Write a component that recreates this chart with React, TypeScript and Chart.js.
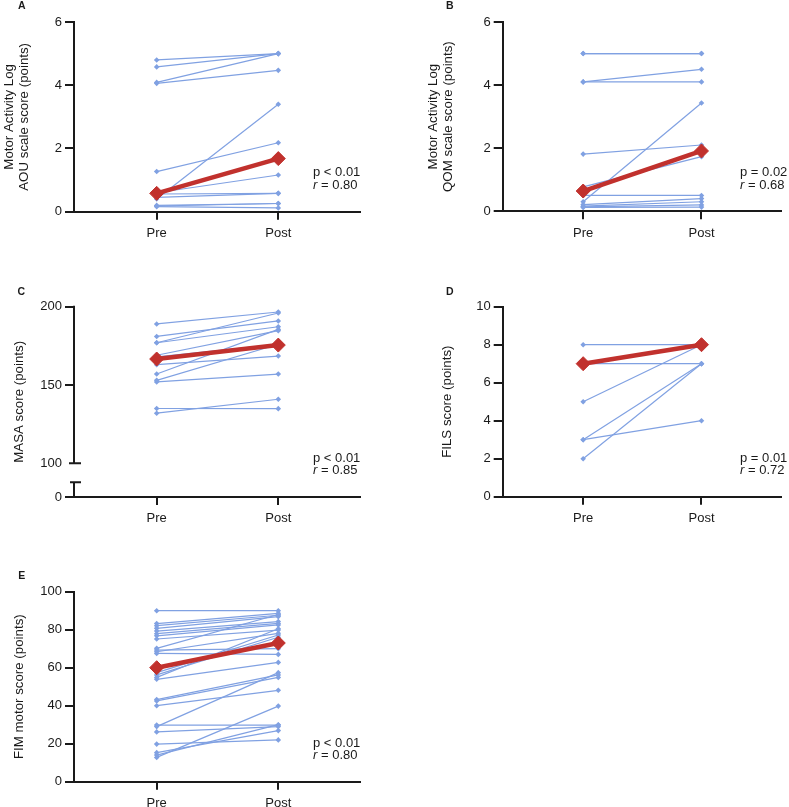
import React, { useEffect, useRef } from 'react';
import { Chart, registerables } from 'chart.js';
Chart.register(...registerables);

const FONT = '"Liberation Sans", Arial, Helvetica, sans-serif';
const INK = '#1a1a1a';
const BLUE = 'rgb(128,161,226)';
const RED = '#c1312d';

// ---- data ----
const xLabels = ['Pre', 'Post'];
const xPositions = [1, 2];

const preA = [4.8, 4.58, 4.09, 4.06, 1.27, 0.6, 0.56, 0.4, 0.45, 0.2, 0.18, 0.16];
const postA = [5.0, 5.0, 5.0, 4.47, 2.18, 1.16, 0.58, 3.4, 0.58, 0.26, 0.26, 0.12];
const medianA = [0.58, 1.68];
const ticksA = [0, 2, 4, 6];

const preB = [5.0, 5.0, 4.1, 4.1, 1.81, 0.77, 0.3, 0.5, 0.21, 0.16, 0.14, 0.12];
const postB = [5.0, 5.0, 4.5, 4.1, 2.1, 1.73, 3.43, 0.5, 0.4, 0.3, 0.2, 0.13];
const medianB = [0.64, 1.91];
const ticksB = [0, 2, 4, 6];

const preC = [189, 181, 177, 177, 169, 168, 163, 157, 153, 152, 135, 132];
const postC = [196.6, 190.9, 196, 187.2, 184.7, 176, 168.5, 185.5, 176, 157, 134.9, 140.9];
const medianC = [166.6, 175.5];
const ticksC = [78.5, 100, 150, 200]; // 78.5 is where the broken axis shows "0"
const tickLabelsC = ['0', '100', '150', '200'];

const preD = [8, 7, 5, 3, 3, 2];
const postD = [8, 7, 8, 7, 4, 7];
const medianD = [7, 8];
const ticksD = [0, 2, 4, 6, 8, 10];

const preE = [90, 83.2, 82.1, 80.7, 79.3, 77.9, 76.8, 75.1, 70.2, 69.3, 68.4, 67.5, 57.4, 56.2, 54.9, 53.9, 43.2, 42.5, 40.0, 29.8, 29.0, 26.2, 19.8, 15.3, 14.0, 12.8];
const postE = [90, 88.6, 87.6, 86.9, 84.3, 83.3, 82.5, 79.8, 88.0, 70.0, 78.1, 67.0, 77.2, 76.0, 80.5, 62.8, 56.2, 54.9, 48.1, 29.8, 57.4, 29.0, 22.0, 26.9, 30.0, 39.8];
const medianE = [60, 73];
const ticksE = [0, 20, 40, 60, 80, 100];

const titles = {
  A: ['Motor Activity Log', 'AOU scale score (points)'],
  B: ['Motor Activity Log', 'QOM scale score (points)'],
  C: 'MASA score (points)',
  D: 'FILS score (points)',
  E: 'FIM motor score (points)',
};
const pTexts = ['p < 0.01', 'p = 0.02', 'p < 0.01', 'p = 0.01', 'p < 0.01'];
const rTexts = ['0.80', '0.68', '0.85', '0.72', '0.80'];
const letters = ['A', 'B', 'C', 'D', 'E'];

type Area = { left: number; top: number; right: number; bottom: number };
type Cfg = {
  pre: number[]; post: number[]; median: number[];
  yMin: number; yMax: number; yTicks: number[]; tickLabels?: string[];
  title: string | string[]; titlePad: number;
  box: { left: number; top: number; w: number; h: number };
  area: Area;
  broken?: { upper: number; lower: number };
};

const panels: Cfg[] = [
  { pre: preA, post: postA, median: medianA, yMin: 0, yMax: 6, yTicks: ticksA, title: titles.A, titlePad: 1.5,
    box: { left: 0, top: 0, w: 394, h: 250 }, area: { left: 74, top: 22, right: 360, bottom: 211.7 } },
  { pre: preB, post: postB, median: medianB, yMin: 0, yMax: 6, yTicks: ticksB, title: titles.B, titlePad: 32,
    box: { left: 394, top: 0, w: 395, h: 250 }, area: { left: 108.7, top: 22, right: 395, bottom: 211.2 } },
  { pre: preC, post: postC, median: medianC, yMin: 78.5, yMax: 200, yTicks: ticksC, tickLabels: tickLabelsC, title: titles.C, titlePad: 11.7,
    box: { left: 0, top: 250, w: 394, h: 280 }, area: { left: 74, top: 56.7, right: 360, bottom: 247 },
    broken: { upper: 100, lower: 87.9 } },
  { pre: preD, post: postD, median: medianD, yMin: 0, yMax: 10, yTicks: ticksD, title: titles.D, titlePad: 46,
    box: { left: 394, top: 250, w: 395, h: 280 }, area: { left: 108.7, top: 56.7, right: 395, bottom: 246.7 } },
  { pre: preE, post: postE, median: medianE, yMin: 0, yMax: 100, yTicks: ticksE, title: titles.E, titlePad: 11.7,
    box: { left: 0, top: 530, w: 394, h: 277 }, area: { left: 74, top: 61.7, right: 360, bottom: 251.7 } },
];

const letterPos = [
  { left: 18, top: 0 }, { left: 446, top: 0 }, { left: 17.5, top: 285.6 }, { left: 446, top: 285.6 }, { left: 18.3, top: 570 },
];
const notePos = [
  { left: 313, top: 166 }, { left: 740, top: 166 }, { left: 313, top: 451.5 }, { left: 740, top: 451.5 }, { left: 313, top: 736.5 },
];

function Panel({ cfg }: { cfg: Cfg }) {
  const ref = useRef<HTMLCanvasElement>(null);
  useEffect(() => {
    const c = cfg;
    const datasets: any[] = [];
    datasets.push({
      data: c.median.map((y, i) => ({ x: xPositions[i], y })),
      borderColor: RED, backgroundColor: RED, borderWidth: 4.5,
      pointStyle: 'rectRot', pointRadius: 7, pointBorderWidth: 1, pointBorderColor: RED,
      order: 0, clip: false,
    });
    c.pre.forEach((p, i) => {
      datasets.push({
        data: [{ x: xPositions[0], y: p }, { x: xPositions[1], y: c.post[i] }],
        borderColor: BLUE, backgroundColor: BLUE, borderWidth: 1.2,
        pointStyle: 'rectRot', pointRadius: 2.8, pointBorderWidth: 0,
        order: 1, clip: false,
      });
    });
    const brokenPlugin = {
      id: 'brokenAxis',
      afterDraw(chart: any) {
        if (!c.broken) return;
        const y = chart.scales.y;
        const ctx = chart.ctx;
        const x = Math.round(chart.chartArea.left);
        const yTop = y.getPixelForValue(y.max);
        const yUp = y.getPixelForValue(c.broken.upper);
        const yLow = y.getPixelForValue(c.broken.lower);
        const yBot = y.getPixelForValue(y.min);
        ctx.save();
        ctx.strokeStyle = INK;
        ctx.lineWidth = 2;
        ctx.beginPath();
        ctx.moveTo(x, yTop - 1); ctx.lineTo(x, yUp);
        ctx.moveTo(x, yLow); ctx.lineTo(x, yBot + 1);
        ctx.moveTo(x - 5, yUp); ctx.lineTo(x + 7, yUp);
        ctx.moveTo(x - 4, yLow); ctx.lineTo(x + 7, yLow);
        ctx.stroke();
        ctx.restore();
      },
    };
    const font = { family: FONT, size: 13 };
    const chart = new Chart(ref.current as HTMLCanvasElement, {
      type: 'line',
      data: { datasets },
      options: {
        animation: false,
        responsive: false,
        maintainAspectRatio: false,
        layout: { padding: { left: 0, top: c.area.top, right: c.box.w - c.area.right, bottom: 0 } },
        plugins: { legend: { display: false }, tooltip: { enabled: false }, title: { display: false } },
        scales: {
          x: {
            type: 'linear', position: 'bottom', min: 0.32, max: 2.672,
            afterBuildTicks: (s: any) => { s.ticks = xPositions.map((v) => ({ value: v })); },
            afterFit: (s: any) => { s.height = c.box.h - c.area.bottom; },
            ticks: { callback: (v: any) => xLabels[xPositions.indexOf(v)], autoSkip: false, maxRotation: 0, padding: 6, color: INK, font },
            grid: { display: true, drawOnChartArea: false, drawTicks: true, tickLength: 8, lineWidth: 2, color: INK },
            border: { display: true, width: 2, color: INK },
          },
          y: {
            type: 'linear', position: 'left', min: c.yMin, max: c.yMax,
            afterBuildTicks: (s: any) => { s.ticks = c.yTicks.map((v) => ({ value: v })); },
            afterFit: (s: any) => { s.width = c.area.left; },
            ticks: {
              callback: (v: any) => (c.tickLabels ? c.tickLabels[c.yTicks.indexOf(v)] : String(v)),
              padding: 3, color: INK, font,
            },
            grid: {
              display: true, drawOnChartArea: false, drawTicks: true, tickLength: 9, lineWidth: 2,
              color: (ctx: any) => (c.broken && ctx.tick && ctx.tick.value === c.broken.upper ? 'rgba(0,0,0,0)' : INK),
            },
            border: { display: !c.broken, width: 2, color: INK },
            title: {
              display: true, text: c.title as any, color: INK,
              font: { family: FONT, size: 13.3, lineHeight: 1.13 },
              padding: { top: c.titlePad, bottom: 0 },
            },
          },
        },
      } as any,
      plugins: [brokenPlugin],
    });
    return () => chart.destroy();
  }, []);
  return (
    <canvas
      ref={ref}
      width={cfg.box.w}
      height={cfg.box.h}
      style={{ position: 'absolute', left: cfg.box.left, top: cfg.box.top, width: cfg.box.w, height: cfg.box.h, display: 'block' }}
    />
  );
}

export default function App() {
  return (
    <div style={{ position: 'absolute', left: 0, top: 0, width: 789, height: 807, background: '#fff', overflow: 'hidden', fontFamily: FONT, color: INK }}>
      {panels.map((p, i) => <Panel key={i} cfg={p} />)}
      {letters.map((l, i) => (
        <div key={'l' + i} style={{ position: 'absolute', left: letterPos[i].left, top: letterPos[i].top, fontSize: 10.5, lineHeight: '10px', fontWeight: 'bold' }}>{l}</div>
      ))}
      {pTexts.map((t, i) => (
        <div key={'n' + i} style={{ position: 'absolute', left: notePos[i].left, top: notePos[i].top, fontSize: 13, lineHeight: '12.5px', whiteSpace: 'nowrap' }}>
          <div>{t}</div>
          <div><i>r</i> = {rTexts[i]}</div>
        </div>
      ))}
    </div>
  );
}
